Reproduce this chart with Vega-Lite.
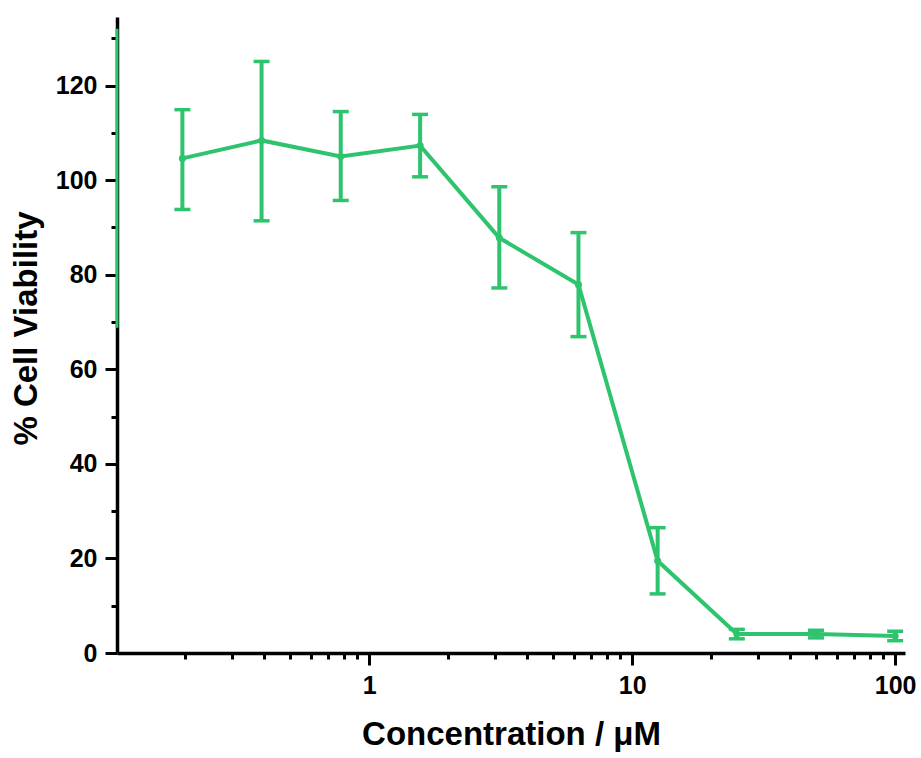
{
  "$schema": "https://vega.github.io/schema/vega-lite/v6.json",
  "width": 788,
  "height": 636,
  "autosize": {"type": "none"},
  "padding": {"left": 117, "top": 17, "right": 16, "bottom": 105},
  "background": "white",
  "config": {
    "view": {"stroke": null},
    "font": "Liberation Sans",
    "axis": {
      "domainColor": "black",
      "domainWidth": 3.5,
      "tickColor": "black",
      "tickWidth": 3,
      "labelFont": "Liberation Sans",
      "labelFontWeight": "bold",
      "labelFontSize": 25,
      "labelColor": "black",
      "titleFont": "Liberation Sans",
      "titleFontWeight": "bold",
      "titleFontSize": 33,
      "titleColor": "black",
      "grid": false
    }
  },
  "datasets": {
    "viability": [
      {"conc": 0.195, "mean": 104.6, "lo": 93.8, "hi": 114.9},
      {"conc": 0.39, "mean": 108.4, "lo": 91.4, "hi": 125.1},
      {"conc": 0.78, "mean": 105.0, "lo": 95.7, "hi": 114.5},
      {"conc": 1.5625, "mean": 107.3, "lo": 100.7, "hi": 113.9},
      {"conc": 3.125, "mean": 87.8, "lo": 77.2, "hi": 98.6},
      {"conc": 6.25, "mean": 77.9, "lo": 66.9, "hi": 88.9},
      {"conc": 12.5, "mean": 19.5, "lo": 12.5, "hi": 26.5},
      {"conc": 25, "mean": 4.0, "lo": 3.0, "hi": 5.0},
      {"conc": 50, "mean": 4.0, "lo": 3.2, "hi": 4.8},
      {"conc": 100, "mean": 3.6, "lo": 2.6, "hi": 4.6}
    ],
    "stray": [
      {"conc": 0.11, "lo": 68.8, "hi": 132}
    ]
  },
  "layer": [
    {
      "data": {"name": "viability"},
      "mark": {"type": "line", "color": "#2EC46E", "strokeWidth": 4},
      "encoding": {
        "x": {
          "field": "conc", "type": "quantitative",
          "scale": {"type": "log", "domain": [0.11, 109], "nice": false},
          "axis": {
            "title": "Concentration / μM",
            "values": [0.2, 0.3, 0.4, 0.5, 0.6, 0.7, 0.8, 0.9, 1, 2, 3, 4, 5, 6, 7, 8, 9, 10, 20, 30, 40, 50, 60, 70, 80, 90, 100],
            "tickSize": {"condition": {"test": "datum.value == 1 || datum.value == 10 || datum.value == 100", "value": 12}, "value": 6},
            "labelExpr": "(datum.value == 1 || datum.value == 10 || datum.value == 100) ? toString(datum.value) : ''",
            "labelPadding": 8,
            "labelFlush": false,
            "labelOverlap": false,
            "titlePadding": 20
          }
        },
        "y": {
          "field": "mean", "type": "quantitative",
          "scale": {"domain": [0, 134.5], "nice": false, "zero": false},
          "axis": {
            "title": "% Cell Viability",
            "values": [0, 10, 20, 30, 40, 50, 60, 70, 80, 90, 100, 110, 120, 130],
            "tickSize": {"condition": {"test": "datum.value % 20 == 0", "value": 12}, "value": 6},
            "labelExpr": "datum.value % 20 == 0 ? toString(datum.value) : ''",
            "labelPadding": 8,
            "labelFlush": false,
            "labelOverlap": false,
            "titlePadding": 12,
            "titleY": 311
          }
        }
      }
    },
    {
      "data": {"name": "viability"},
      "mark": {"type": "rule", "color": "#2EC46E", "strokeWidth": 4},
      "encoding": {
        "x": {"field": "conc", "type": "quantitative"},
        "y": {"field": "lo", "type": "quantitative"},
        "y2": {"field": "hi"}
      }
    },
    {
      "data": {"name": "viability"},
      "mark": {"type": "tick", "color": "#2EC46E", "orient": "horizontal", "size": 16, "thickness": 3.5, "opacity": 1},
      "encoding": {
        "x": {"field": "conc", "type": "quantitative"},
        "y": {"field": "hi", "type": "quantitative"}
      }
    },
    {
      "data": {"name": "viability"},
      "mark": {"type": "tick", "color": "#2EC46E", "orient": "horizontal", "size": 16, "thickness": 3.5, "opacity": 1},
      "encoding": {
        "x": {"field": "conc", "type": "quantitative"},
        "y": {"field": "lo", "type": "quantitative"}
      }
    },
    {
      "data": {"name": "viability"},
      "mark": {"type": "circle", "color": "#2EC46E", "size": 50, "opacity": 1},
      "encoding": {
        "x": {"field": "conc", "type": "quantitative"},
        "y": {"field": "mean", "type": "quantitative"}
      }
    },
    {
      "data": {"name": "stray"},
      "mark": {"type": "rule", "color": "#2EC46E", "strokeWidth": 3},
      "encoding": {
        "x": {"field": "conc", "type": "quantitative"},
        "y": {"field": "lo", "type": "quantitative"},
        "y2": {"field": "hi"}
      }
    }
  ]
}
